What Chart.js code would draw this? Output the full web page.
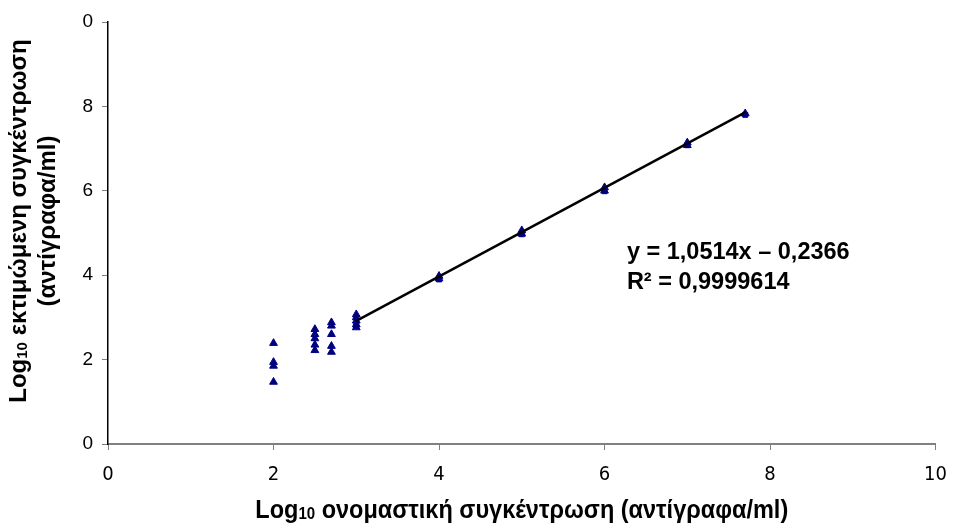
<!DOCTYPE html>
<html>
<head>
<meta charset="utf-8">
<script src="https://cdn.jsdelivr.net/npm/chart.js@4/dist/chart.umd.min.js"></script>
<style>
html,body{margin:0;padding:0;background:#fff;}
#wrap{width:960px;height:526px;position:relative;}
</style>
</head>
<body>
<div id="wrap"><canvas id="c" width="960" height="526"></canvas></div>
<script>
// Nominal log10 concentration (x) and estimated log10 concentration (y), triangle series
const triX = [2,2,2,2, 2.5,2.5,2.5,2.5,2.5, 2.7,2.7,2.7,2.7,2.7, 3,3,3,3,3, 4,4, 5,5, 6,6, 7,7, 7.7];
const triY = [2.39,1.94,1.85,1.47, 2.72,2.60,2.50,2.35,2.22, 2.88,2.80,2.60,2.32,2.18, 3.07,3.00,2.92,2.83,2.76, 3.98,3.92, 5.06,4.98, 6.08,6.00, 7.14,7.08, 7.83];
// square series (mostly hidden beneath triangles)
const sqX = [3, 4, 5, 6, 7, 7.7];
const sqY = [2.80, 3.90, 4.97, 5.99, 7.08, 7.80];
// linear trend line endpoints (y = 1,0514x – 0,2366)
const trendX = [3, 7.7];
const trendY = [2.918, 7.859];
// axis ticks
const xTickValues = [0,2,4,6,8,10];
const xTickLabels = ['0','2','4','6','8','10'];
const yTickValues = [0,2,4,6,8,10];
const yTickLabels = ['0','2','4','6','8','0'];
const equationLines = ['y = 1,0514x \u2013 0,2366', 'R\u00b2 = 0,9999614'];
const equationPos = {x: 6.27, y1: 4.53, y2: 3.82};

const toPts = (xs, ys) => xs.map((x, i) => ({x: x, y: ys[i]}));

const titlePlugin = {
  id: 'titles',
  afterDraw(chart) {
    const ctx = chart.ctx;
    const xs = chart.scales.x, ys = chart.scales.y;
    ctx.save();
    ctx.fillStyle = '#000';
    // equation
    ctx.font = 'bold 23.5px "Liberation Sans", Arial, sans-serif';
    ctx.textAlign = 'left';
    ctx.textBaseline = 'middle';
    const ex = xs.getPixelForValue(equationPos.x);
    ctx.fillText(equationLines[0], ex, ys.getPixelForValue(equationPos.y1));
    ctx.fillText(equationLines[1], ex, ys.getPixelForValue(equationPos.y2));

    // helper: draw "Log" + subscript "10" + rest, centered at 0 in current transform
    function drawSub(rest, font, subFont, cy, hScale) {
      ctx.font = font;
      const w1 = ctx.measureText('Log').width;
      const w3 = ctx.measureText(rest).width;
      ctx.font = subFont;
      const w2 = ctx.measureText('10').width;
      const total = w1 + w2 + w3;
      ctx.save();
      ctx.scale(hScale, 1);
      const x0 = -total / 2;
      ctx.textAlign = 'left';
      ctx.textBaseline = 'alphabetic';
      ctx.font = font;
      ctx.fillText('Log', x0, cy);
      ctx.font = subFont;
      ctx.fillText('10', x0 + w1, cy + 1);
      ctx.font = font;
      ctx.fillText(rest, x0 + w1 + w2, cy);
      ctx.restore();
      return total;
    }
    // x title (narrow look)
    const cxm = (chart.chartArea.left + chart.chartArea.right) / 2;
    ctx.save();
    ctx.translate(cxm, 0);
    drawSub(' ονομαστική συγκέντρωση (αντίγραφα/ml)',
      'bold 25px "Liberation Sans", Arial, sans-serif',
      'bold 16px "Liberation Sans", Arial, sans-serif',
      518, 0.94);
    ctx.restore();
    // y title (rotated)
    ctx.save();
    ctx.translate(0, 221);
    ctx.rotate(-Math.PI / 2);
    drawSub(' εκτιμώμενη συγκέντρωση',
      'bold 24px "Liberation Sans", Arial, sans-serif',
      'bold 15px "Liberation Sans", Arial, sans-serif',
      26, 1);
    ctx.font = 'bold 24px "Liberation Sans", Arial, sans-serif';
    ctx.textAlign = 'center';
    ctx.fillText('(αντίγραφα/ml)', 0, 48);
    ctx.restore();
    ctx.restore();
  }
};

new Chart(document.getElementById('c'), {
  type: 'scatter',
  data: {
    datasets: [
      {
        label: 'trend', type: 'line', data: toPts(trendX, trendY),
        borderColor: '#000', borderWidth: 2.5, pointRadius: 0, fill: false, order: 0
      },
      {
        label: 'tri', data: toPts(triX, triY), pointStyle: 'triangle',
        pointRadius: 4.5, backgroundColor: '#000080', borderColor: '#000080', borderWidth: 1, order: 1
      },
      {
        label: 'sq', data: toPts(sqX, sqY), pointStyle: 'rect',
        pointRadius: 3.5, backgroundColor: '#000080', borderColor: '#000080', borderWidth: 1, order: 2
      }
    ]
  },
  options: {
    responsive: false,
    animation: false,
    layout: {padding: {left: 0, right: 16, top: 22, bottom: 0}},
    plugins: {legend: {display: false}, tooltip: {enabled: false}},
    scales: {
      x: {
        type: 'linear', min: 0, max: 10,
        afterBuildTicks: s => { s.ticks = xTickValues.map(v => ({value: v})); },
        afterFit: s => { s.height = 82; },
        ticks: {
          callback: (v) => xTickLabels[xTickValues.indexOf(v)],
          font: {family: '"Liberation Sans Narrow", "DejaVu Sans Condensed", Arial, sans-serif', size: 20},
          color: '#000', padding: 13, maxRotation: 0
        },
        grid: {drawOnChartArea: false, drawTicks: true, tickLength: 6, color: '#808080'},
        border: {color: '#808080', width: 2}
      },
      y: {
        type: 'linear', min: 0, max: 10,
        afterBuildTicks: s => { s.ticks = yTickValues.map(v => ({value: v})); },
        afterFit: s => { s.width = 108; },
        ticks: {
          callback: (v) => yTickLabels[yTickValues.indexOf(v)],
          font: {family: '"Liberation Sans", Arial, sans-serif', size: 19},
          color: '#000', padding: 9
        },
        grid: {drawOnChartArea: false, drawTicks: true, tickLength: 6, color: '#808080'},
        border: {color: '#000', width: 1.5}
      }
    }
  },
  plugins: [titlePlugin]
});
</script>
</body>
</html>
